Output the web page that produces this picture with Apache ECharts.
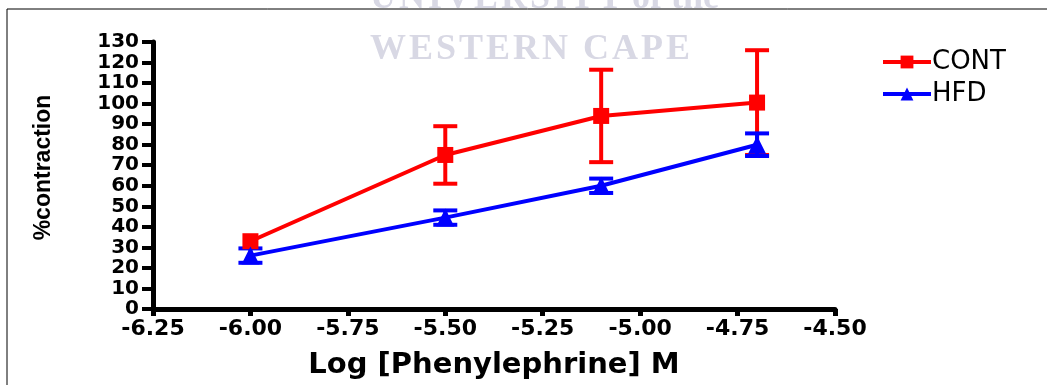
<!DOCTYPE html>
<html>
<head>
<meta charset="utf-8">
<script src="https://cdn.jsdelivr.net/npm/echarts@6/dist/echarts.min.js"></script>
<style>
  html, body { margin: 0; padding: 0; background: #fff; }
  #chart { width: 1047px; height: 385px; }
</style>
</head>
<body>
<div id="chart"></div>
<script>
// log concentration (M)
const doses = [-6.00, -5.50, -5.10, -4.70]
const contMean = [33, 75, 94, 100.5]
const contErr = [0, 14, 22.5, 25.5]
const hfdMean = [26, 44.5, 60, 80]
const hfdErr = [3.5, 3.5, 3.5, 5.5]
const xTicks = [-6.25, -6.00, -5.75, -5.50, -5.25, -5.00, -4.75, -4.50]

const RED = '#ff0000'
const BLUE = '#0000ff'
const HS = '\u200A'

const pairs = (xs, ys) => xs.map((x, i) => [x, ys[i]])
const errData = (xs, ys, es) => xs.map((x, i) => [x, ys[i] - es[i], ys[i] + es[i]])

const errorSeries = (name, color, data) => ({
  name: name,
  type: 'custom',
  data: data,
  silent: true,
  z: 2,
  itemStyle: { color: color },
  renderItem: (params, api) => {
    const x = api.value(0)
    if (api.value(1) === api.value(2)) return null
    const lo = api.coord([x, api.value(1)])
    const hi = api.coord([x, api.value(2)])
    const cap = 12
    const style = { stroke: color, lineWidth: 4 }
    return {
      type: 'group',
      children: [
        { type: 'line', shape: { x1: lo[0], y1: lo[1], x2: hi[0], y2: hi[1] }, style },
        { type: 'line', shape: { x1: lo[0] - cap, y1: lo[1], x2: lo[0] + cap, y2: lo[1] }, style },
        { type: 'line', shape: { x1: hi[0] - cap, y1: hi[1], x2: hi[0] + cap, y2: hi[1] }, style }
      ]
    }
  }
})

const chart = echarts.init(document.getElementById('chart'))

const axisText = { fontFamily: 'DejaVu Sans', fontWeight: 'bold', color: '#000' }

chart.setOption({
  animation: false,
  backgroundColor: '#fff',
  grid: { left: 153, right: 212, top: 42, bottom: 71 },
  graphic: [
    {
      type: 'text', left: 370, top: -19, z: -10, silent: true,
      style: {
        text: 'UNIVERSITY'.split('').join(HS) + ' of the',
        font: 'bold 36px "Liberation Serif"', fill: '#d8d8e4'
      }
    },
    {
      type: 'text', left: 370, top: 32, z: -10, silent: true,
      style: {
        text: 'WESTERN CAPE'.split('').join(HS),
        font: 'bold 36px "Liberation Serif"', fill: '#d8d8e4'
      }
    },
    {
      type: 'rect', z: 100, silent: true,
      shape: { x: 7, y: 9, width: 1100, height: 500 },
      style: { fill: 'none', stroke: '#000', lineWidth: 1 }
    }
  ],
  legend: {
    orient: 'vertical',
    left: 876,
    top: 44,
    itemWidth: 48,
    itemHeight: 16,
    itemGap: 6,
    lineStyle: { width: 4 },
    textStyle: { fontFamily: 'DejaVu Sans', fontSize: 26, color: '#000', padding: [0, 0, 0, -4] },
    data: ['CONT', 'HFD']
  },
  xAxis: {
    type: 'value',
    min: -6.25,
    max: -4.5,
    interval: 0.25,
    name: 'Log [Phenylephrine] M',
    nameLocation: 'middle',
    nameGap: 42,
    nameTextStyle: { fontFamily: 'DejaVu Sans', fontWeight: 'bold', fontSize: 29, color: '#000' },
    splitLine: { show: false },
    axisLine: { lineStyle: { color: '#000', width: 5 } },
    axisTick: { length: 7, lineStyle: { color: '#000', width: 5 } },
    axisLabel: Object.assign({}, axisText, {
      fontSize: 22,
      margin: 9,
      showMinLabel: true,
      showMaxLabel: true,
      formatter: v => xTicks.includes(+v.toFixed(2)) ? v.toFixed(2) : ''
    })
  },
  yAxis: {
    type: 'value',
    min: 0,
    max: 130,
    interval: 10,
    name: '%contraction',
    nameLocation: 'middle',
    nameGap: 98,
    nameTextStyle: { fontFamily: 'Liberation Sans', fontWeight: 'bold', fontSize: 23, color: '#000', padding: [0, 0, 0, 16] },
    splitLine: { show: false },
    axisLine: { show: true, lineStyle: { color: '#000', width: 5 } },
    axisTick: { show: true, length: 11, lineStyle: { color: '#000', width: 4 } },
    axisLabel: Object.assign({}, axisText, {
      fontSize: 20,
      margin: 14,
      showMinLabel: true,
      showMaxLabel: true,
      hideOverlap: false
    })
  },
  series: [
    errorSeries('CONT err', RED, errData(doses, contMean, contErr)),
    {
      name: 'CONT',
      type: 'line',
      data: pairs(doses, contMean),
      symbol: 'rect',
      symbolSize: 16,
      z: 3,
      itemStyle: { color: RED },
      lineStyle: { color: RED, width: 4 }
    },
    errorSeries('HFD err', BLUE, errData(doses, hfdMean, hfdErr)),
    {
      name: 'HFD',
      type: 'line',
      data: pairs(doses, hfdMean),
      symbol: 'triangle',
      symbolSize: 18,
      z: 4,
      itemStyle: { color: BLUE },
      lineStyle: { color: BLUE, width: 4 }
    }
  ]
})
</script>
</body>
</html>
